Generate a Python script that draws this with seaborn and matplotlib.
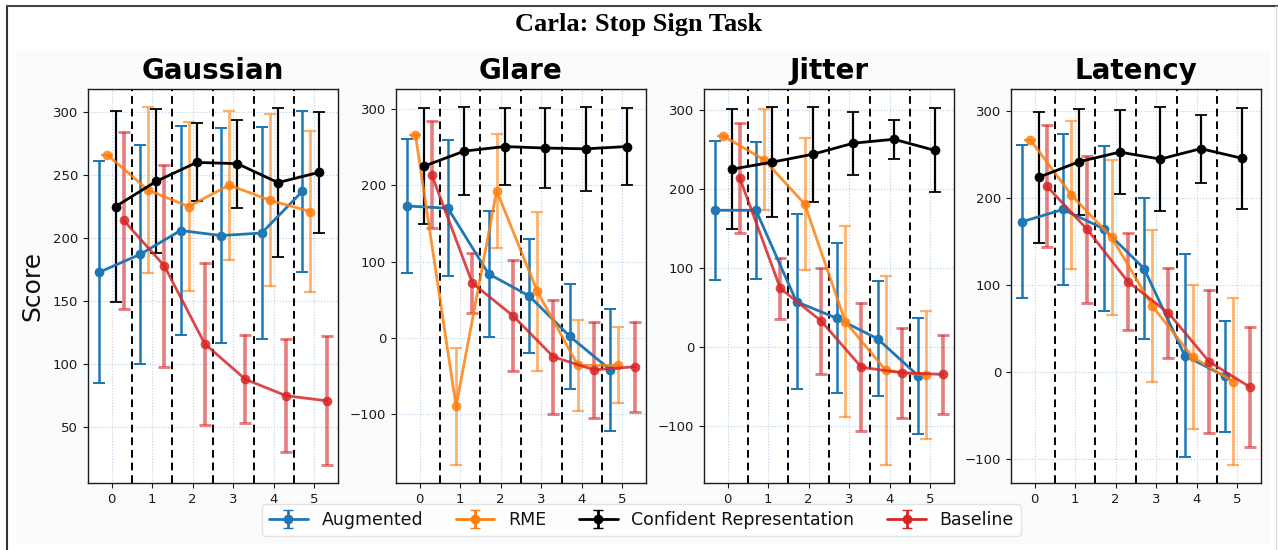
import numpy as np
import pandas as pd
import matplotlib
matplotlib.use("Agg")
import matplotlib.pyplot as plt
import seaborn as sns
from matplotlib.lines import Line2D
from matplotlib.patches import Rectangle

# ---------------- data ----------------
levels = [0, 1, 2, 3, 4, 5]
panels = ["Gaussian", "Glare", "Jitter", "Latency"]
methods = ["Augmented", "RME", "Confident Representation", "Baseline"]

# rows: Augmented, RME, Confident Representation, Baseline
gaussian_mean = [[173, 187, 206, 202, 204, 237],
                 [266, 238, 225, 242, 230, 221],
                 [225, 245, 260, 259, 244, 252],
                 [214, 178, 116, 88, 75, 71]]
gaussian_std = [[88, 87, 83, 85, 84, 64],
                [0, 66, 67, 59, 68, 64],
                [76, 57, 31, 35, 59, 48],
                [70, 80, 64, 35, 45, 51]]

glare_mean = [[173, 170, 84, 55, 2, -42],
              [266, -90, 193, 61, -36, -36],
              [225, 245, 251, 249, 248, 251],
              [214, 72, 29, -25, -42, -38]]
glare_std = [[88, 89, 83, 75, 69, 80],
             [0, 77, 75, 104, 60, 50],
             [76, 58, 51, 53, 55, 51],
             [70, 39, 73, 75, 63, 59]]

jitter_mean = [[173, 173, 57, 36, 10, -37],
               [267, 237, 181, 32, -30, -36],
               [225, 234, 244, 258, 263, 249],
               [214, 74, 33, -26, -33, -35]]
jitter_std = [[88, 87, 111, 95, 73, 74],
              [0, 64, 84, 121, 120, 81],
              [76, 70, 60, 40, 25, 53],
              [70, 39, 67, 81, 57, 50]]

latency_mean = [[173, 187, 165, 119, 19, -5],
                [267, 204, 155, 76, 17, -11],
                [224, 242, 253, 245, 257, 246],
                [214, 164, 104, 68, 12, -17]]
latency_std = [[88, 87, 95, 81, 117, 64],
               [0, 85, 89, 87, 83, 96],
               [75, 61, 48, 60, 39, 58],
               [70, 84, 56, 52, 82, 69]]

panel_means = [gaussian_mean, glare_mean, jitter_mean, latency_mean]
panel_stds = [gaussian_std, glare_std, jitter_std, latency_std]

# ---------------- style ----------------
sns.set_style("ticks")
plt.rcParams["font.family"] = ["DejaVu Sans"]

colors = ["#1f77b4", "#ff7f0e", "black", "#d62728"]
offsets = [-0.3, -0.1, 0.1, 0.3]
line_alpha = [1.0, 0.85, 1.0, 0.85]
err_alpha = [1.0, 0.6, 1.0, 0.6]
err_lw = [1.8, 2.0, 1.6, 2.6]

W, H = 1278, 550
fig = plt.figure(figsize=(W / 100, H / 100), dpi=100)
fig.patch.set_facecolor("white")

# background panel and outer frame
fig.patches.append(Rectangle((16 / W, 1 - 545 / H), (1270 - 16) / W, (545 - 50) / H,
                             transform=fig.transFigure, facecolor="#fafbfd",
                             edgecolor="none", zorder=-10))
fig.lines.append(Line2D([7 / W, 7 / W], [0, 1 - 5.5 / H], transform=fig.transFigure,
                        color="#333333", lw=1.5))
fig.lines.append(Line2D([7 / W, 1], [1 - 5.5 / H, 1 - 5.5 / H], transform=fig.transFigure,
                        color="#444444", lw=1.5))
fig.lines.append(Line2D([1275.5 / W, 1275.5 / W], [0, 1 - 5.5 / H], transform=fig.transFigure,
                        color="#dddddd", lw=1.0))

fig.text(0.5, 1 - 25 / H, "Carla: Stop Sign Task", ha="center", va="center",
         fontsize=19, fontweight="bold", color="black",
         family=["Liberation Serif", "DejaVu Serif"])

lefts = [88, 396, 704, 1011]
ax_w = 250
top_px, bot_px = 89, 483

for p, name in enumerate(panels):
    ax = fig.add_axes([lefts[p] / W, 1 - bot_px / H, ax_w / W, (bot_px - top_px) / H])
    ax.set_facecolor("white")
    means = panel_means[p]
    stds = panel_stds[p]
    for m in range(len(methods)):
        xs = np.array(levels) + offsets[m]
        ax.errorbar(xs, means[m], yerr=stds[m], fmt="none", ecolor=colors[m],
                    elinewidth=err_lw[m], capsize=4.5, capthick=err_lw[m] * 0.8,
                    alpha=err_alpha[m], zorder=2)
        df = pd.DataFrame({"x": xs, "y": means[m]})
        sns.lineplot(data=df, x="x", y="y", ax=ax, color=colors[m], marker="o",
                     markersize=7, markeredgewidth=0, lw=2, alpha=line_alpha[m],
                     legend=False, zorder=3)
    for b in np.arange(0.5, 5, 1.0):
        ax.axvline(b, color="black", ls=(0, (4, 2.5)), lw=1.4, zorder=1)
    ax.set_xticks(levels)
    if p == 0:
        ax.set_yticks([50, 100, 150, 200, 250, 300])
    else:
        ax.set_yticks([-100, 0, 100, 200, 300])
    ax.grid(True, ls=":", color="#b8d0e8", lw=0.8, zorder=0)
    ax.set_axisbelow(True)
    ax.tick_params(labelsize=9.5, length=3.5, colors="#1a1a1a")
    for s in ax.spines.values():
        s.set_visible(True)
        s.set_color("#1a1a1a")
        s.set_linewidth(1.0)
    ax.set_xlabel("")
    ax.set_ylabel("Score" if p == 0 else "", fontsize=18, labelpad=6, color="#111111")
    ax.set_title(name, fontsize=20, fontweight="bold", pad=7, color="black")

# legend handles from an invisible axes
hax = fig.add_axes([0, 0, 0.01, 0.01])
handles = []
for m in range(len(methods)):
    h = hax.errorbar([0], [0], yerr=[1], fmt="-o", color=colors[m], lw=2,
                     markersize=6, capsize=3.5, elinewidth=2)
    handles.append(h)
hax.set_visible(False)
leg = fig.legend(handles, methods, loc="center", bbox_to_anchor=(0.502, 1 - 520 / H), ncol=4,
                 fontsize=12.5, frameon=True, handlelength=2.2, columnspacing=1.9,
                 borderpad=0.4, edgecolor="#dddddd")
for t in leg.get_texts():
    t.set_color("#111111")

fig.savefig("out.png", dpi=100, facecolor="white")
